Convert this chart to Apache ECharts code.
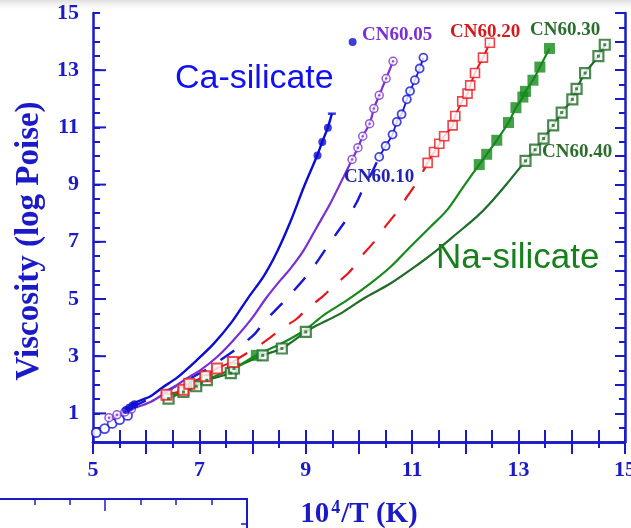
<!DOCTYPE html>
<html><head><meta charset="utf-8">
<script src="https://cdn.jsdelivr.net/npm/echarts@6.0.0/dist/echarts.min.js"></script>
<style>html,body{margin:0;padding:0;background:#fff}#c{width:631px;height:528px}</style>
</head><body><div id="c"></div><script>
// Viscosity vs reciprocal temperature for Ca- and Na-silicate melts

// Ca-silicate reference curve and its measured points
const caLineX = [5.6,5.8,6.08,6.3,6.58,6.95,7.27,7.61,7.92,8.21,8.46,8.71,8.96,9.21,9.31,9.415,9.49];
const caLineY = [1.15,1.38,1.6,1.9,2.25,2.86,3.44,4.2,5.05,5.8,6.65,7.7,8.9,10.0,10.5,11.0,11.48];
const caPtsX = [5.62,5.68,5.74,5.78,9.22,9.31,9.415,9.88];
const caPtsY = [1.12,1.2,1.27,1.32,10.02,10.49,10.99,13.99];
const caEndX = [9.49];
const caEndY = [11.48];

// CN60.05
const c05LineX = [5.3,5.5,5.76,6.08,6.39,6.58,6.83,7.02,7.33,7.64,7.96,8.27,8.52,8.71,8.96,9.21,9.46,9.71,9.87,9.98,10.07,10.2,10.28,10.38,10.51,10.64];
const c05LineY = [0.85,0.97,1.17,1.4,1.75,2.0,2.3,2.51,2.97,3.56,4.26,5.07,5.65,6.06,6.7,7.52,8.34,9.27,9.88,10.29,10.69,11.13,11.66,12.12,12.71,13.31];
const c05PtsX = [5.3,5.45,5.6,5.72,9.87,9.98,10.07,10.2,10.28,10.38,10.51,10.64];
const c05PtsY = [0.85,0.95,1.05,1.15,9.88,10.29,10.69,11.13,11.66,12.12,12.71,13.31];

// CN60.10
const c10DashX = [5.7,6.0,6.4,6.8,7.1,7.5,7.8,8.05,8.25,8.5,8.75,9.0,9.2,9.4,9.6,9.8,9.96,10.1,10.25,10.38];
const c10DashY = [1.2,1.45,1.8,2.2,2.5,3.0,3.4,3.8,4.27,4.74,5.24,5.77,6.27,6.82,7.35,7.88,8.39,8.95,9.45,9.97];
const c10LowX = [5.06,5.22,5.36,5.5,5.65];
const c10LowY = [0.33,0.47,0.65,0.78,0.93];
const c10HighX = [10.38,10.5,10.63,10.71,10.8,10.9,10.96,11.05,11.14,11.21];
const c10HighY = [9.97,10.35,10.75,11.19,11.46,11.98,12.27,12.65,13.06,13.44];

// CN60.20
const c20LowX = [6.38,6.7,6.81,7.11,7.33,7.63];
const c20LowY = [1.65,1.83,2.04,2.3,2.57,2.8];
const c20DashX = [7.63,7.86,8.08,8.33,8.58,8.83,9.05,9.32,9.55,9.82,10.04,10.28,10.49,10.71,10.9,11.09,11.29];
const c20DashY = [2.8,3.07,3.32,3.65,4.0,4.31,4.7,5.09,5.5,5.94,6.48,6.99,7.52,8.04,8.57,9.09,9.76];
const c20HighX = [11.29,11.41,11.51,11.6,11.76,11.81,11.94,12.04,12.09,12.18,12.33,12.46];
const c20HighY = [9.76,10.14,10.43,10.69,11.07,11.4,11.91,12.18,12.47,12.9,13.44,13.96];

// CN60.30
const c30LineX = [6.4,6.88,7.62,8.07,8.4,8.71,9.02,9.33,9.77,10.21,10.59,10.96,11.34,11.65,11.96,12.26,12.4,12.59,12.81,12.95,13.08,13.13,13.27,13.4,13.58];
const c30LineY = [1.5,1.98,2.55,3.03,3.32,3.61,3.96,4.43,4.95,5.54,6.12,6.82,7.52,8.1,8.92,9.7,10.06,10.55,11.17,11.69,12.06,12.26,12.65,13.11,13.76];
const c30PtsX = [6.88,7.62,8.07,12.26,12.4,12.59,12.81,12.95,13.08,13.13,13.27,13.4,13.58];
const c30PtsY = [1.98,2.55,3.03,9.7,10.06,10.55,11.17,11.69,12.06,12.26,12.65,13.11,13.76];

// CN60.40
const c40LineX = [6.42,6.7,6.94,7.14,7.59,7.65,8.19,8.55,9.0,9.21,9.65,10.08,10.59,11.09,11.46,11.84,12.21,12.46,12.78,13.13,13.31,13.47,13.65,13.81,14.01,14.09,14.25,14.5,14.62];
const c40LineY = [1.52,1.75,1.95,2.16,2.41,2.57,3.03,3.27,3.85,4.08,4.49,5.01,5.54,6.18,6.7,7.29,7.87,8.34,9.03,9.83,10.22,10.61,11.07,11.52,11.98,12.35,12.9,13.49,13.89];
const c40PtsX = [6.42,6.7,6.94,7.14,7.59,7.65,8.19,8.55,9.0,13.13,13.31,13.47,13.65,13.81,14.01,14.09,14.25,14.5,14.62];
const c40PtsY = [1.52,1.75,1.95,2.16,2.41,2.57,3.03,3.27,3.85,9.83,10.22,10.61,11.07,11.52,11.98,12.35,12.9,13.49,13.89];

// labelled (long) ticks on the viscosity axis
const yLongTicks = [1,3,5,7,9,11,13];

const zip = (xs, ys) => xs.map((x, i) => [x, ys[i]]);

const axisBlue = '#1a1ac8';
const caBlue = '#0c0cd2';
const purple = '#7a2fd4';
const blue10 = '#1616d8';
const red = '#e8161c';
const green30 = '#16891c';
const green40 = '#1f6b27';
const serif = "'Liberation Serif','Times New Roman',serif";
const sans = "'Liberation Sans',Arial,sans-serif";

const lineS = (data, color, width, type, z) => ({
  type: 'line', data, showSymbol: false, symbol: 'none', smooth: 0.3, z: z || 2,
  lineStyle: { color, width, type: type || 'solid' }, silent: true, animation: false
});
const dots = (data, opts) => Object.assign({
  type: 'scatter', data, animation: false, silent: true, z: 5
}, opts);

const chart = echarts.init(document.getElementById('c'), null, { renderer: 'canvas' });

const labelStyle = { color: axisBlue, fontFamily: serif, fontWeight: 'bold', fontSize: 22 };

chart.setOption({
  animation: false,
  grid: { left: 93, right: 6, top: 13, bottom: 86, containLabel: false, outerBoundsMode: 'none' },
  xAxis: [
    {
      type: 'value', min: 5, max: 15, interval: 1, position: 'bottom',
      axisLine: { lineStyle: { color: axisBlue, width: 2.5 } },
      axisTick: { inside: true, length: 12, lineStyle: { color: axisBlue, width: 2 } },
      minorTick: { show: true, splitNumber: 2, length: 12, lineStyle: { color: axisBlue, width: 2 } },
      splitLine: { show: false },
      axisLabel: Object.assign({ margin: 17, formatter: v => (v % 2 === 1 ? String(v) : '') }, labelStyle),
      name: '{a|10}{s|4}{a|/T (K)}', nameLocation: 'middle', nameGap: 57,
      nameTextStyle: {
        rich: {
          a: { fontFamily: serif, fontWeight: 'bold', fontSize: 29, color: axisBlue },
          s: { fontFamily: serif, fontWeight: 'bold', fontSize: 18, color: axisBlue, padding: [0, 1, 14, 2] }
        }
      }
    },
    {
      type: 'value', min: 5, max: 15, interval: 1, position: 'top',
      axisLine: { lineStyle: { color: axisBlue, width: 2.5 } },
      axisTick: { inside: true, length: 12, lineStyle: { color: axisBlue, width: 2 } },
      minorTick: { show: true, splitNumber: 2, length: 6, lineStyle: { color: axisBlue, width: 2 } },
      splitLine: { show: false }, axisLabel: { show: false }
    }
  ],
  yAxis: [
    {
      type: 'value', min: 0, max: 15, interval: 1, position: 'left',
      axisLine: { show: true, lineStyle: { color: axisBlue, width: 2.5 } },
      axisTick: { show: true, inside: true, length: 7, lineStyle: { color: axisBlue, width: 2 } },
      minorTick: { show: true, splitNumber: 2, length: 7, lineStyle: { color: axisBlue, width: 2 } },
      splitLine: { show: false },
      axisLabel: Object.assign({ margin: 14, formatter: v => (v % 2 === 1 ? String(v) : '') }, labelStyle)
    },
    {
      type: 'value', min: 0, max: 15, interval: 1, position: 'right',
      axisLine: { show: true, lineStyle: { color: axisBlue, width: 2.5 } },
      axisTick: { show: true, inside: true, length: 10, lineStyle: { color: axisBlue, width: 2 } },
      minorTick: { show: true, splitNumber: 2, length: 6, lineStyle: { color: axisBlue, width: 2 } },
      splitLine: { show: false }, axisLabel: { show: false }
    }
  ],
  series: [
    // long ticks at the labelled viscosity values
    {
      type: 'custom', data: yLongTicks.map(v => [5, v]), silent: true, z: 10,
      renderItem: (params, api) => {
        const p = api.coord([api.value(0), api.value(1)]);
        return { type: 'line', shape: { x1: p[0], y1: p[1], x2: p[0] + 13, y2: p[1] },
                 style: { stroke: axisBlue, lineWidth: 2 } };
      }
    },
    // curves
    lineS(zip(c40LineX, c40LineY), green40, 2.2),
    lineS(zip(c30LineX, c30LineY), green30, 2.2),
    lineS(zip(c20LowX, c20LowY), red, 2),
    lineS(zip(c20DashX, c20DashY), red, 2.2, [17, 17]),
    lineS(zip(c20HighX, c20HighY), red, 2),
    lineS(zip(c10DashX, c10DashY), blue10, 2.4, [17, 17]),
    lineS(zip(c10HighX, c10HighY), blue10, 1.8),
    lineS(zip(c05LineX, c05LineY), purple, 2.2),
    lineS(zip(caLineX, caLineY), caBlue, 2.4),
    // markers
    dots(zip(c40PtsX, c40PtsY), { symbol: 'rect', symbolSize: 10,
      itemStyle: { color: '#fff', borderColor: green40, borderWidth: 2.2 } }),
    dots(zip(c40PtsX, c40PtsY), { symbol: 'rect', symbolSize: 3, z: 6, itemStyle: { color: green40 } }),
    dots(zip(c30PtsX, c30PtsY), { symbol: 'rect', symbolSize: 11, z: 4, itemStyle: { color: green30 } }),
    dots(zip(c20LowX, c20LowY), { symbol: 'rect', symbolSize: 10,
      itemStyle: { color: '#fff', borderColor: red, borderWidth: 2 } }),
    dots(zip(c20HighX, c20HighY), { symbol: 'rect', symbolSize: 9,
      itemStyle: { color: '#fff', borderColor: red, borderWidth: 1.6 } }),
    dots(zip(c10LowX, c10LowY), { symbol: 'circle', symbolSize: 9,
      itemStyle: { color: '#fff', borderColor: blue10, borderWidth: 1.8 } }),
    dots(zip(c10HighX, c10HighY), { symbol: 'circle', symbolSize: 8,
      itemStyle: { color: '#fff', borderColor: blue10, borderWidth: 1.8 } }),
    dots(zip(c05PtsX, c05PtsY), { symbol: 'circle', symbolSize: 8,
      itemStyle: { color: '#fff', borderColor: purple, borderWidth: 1.5 } }),
    dots(zip(c05PtsX, c05PtsY), { symbol: 'circle', symbolSize: 2.5, z: 6, itemStyle: { color: purple } }),
    dots(zip(caPtsX, caPtsY), { symbol: 'circle', symbolSize: 8, z: 6, itemStyle: { color: caBlue } }),
    dots(zip(caEndX, caEndY), { symbol: 'rect', symbolSize: [8, 2.5], z: 6, itemStyle: { color: caBlue } })
  ],
  graphic: [
    // soft grey band along the top edge
    { type: 'rect', z: -10, shape: { x: 0, y: 0, width: 631, height: 12 },
      style: { fill: new echarts.graphic.LinearGradient(0, 0, 0, 1, [
        { offset: 0, color: '#dedede' }, { offset: 1, color: 'rgba(255,255,255,0)' }]) } },
    // fragment of a second frame at the lower left
    { type: 'polyline', shape: { points: [[0, 499], [247, 499], [247, 528]] },
      style: { stroke: axisBlue, lineWidth: 2, fill: null } },
    { type: 'line', shape: { x1: 35, y1: 499, x2: 35, y2: 505 }, style: { stroke: axisBlue, lineWidth: 1.5 } },
    { type: 'line', shape: { x1: 70, y1: 499, x2: 70, y2: 505 }, style: { stroke: axisBlue, lineWidth: 1.5 } },
    { type: 'line', shape: { x1: 105, y1: 499, x2: 105, y2: 511 }, style: { stroke: axisBlue, lineWidth: 1.5 } },
    { type: 'line', shape: { x1: 141, y1: 499, x2: 141, y2: 505 }, style: { stroke: axisBlue, lineWidth: 1.5 } },
    { type: 'line', shape: { x1: 176, y1: 499, x2: 176, y2: 505 }, style: { stroke: axisBlue, lineWidth: 1.5 } },
    { type: 'line', shape: { x1: 212, y1: 499, x2: 212, y2: 505 }, style: { stroke: axisBlue, lineWidth: 1.5 } },
    { type: 'line', shape: { x1: 241, y1: 524, x2: 247, y2: 524 }, style: { stroke: axisBlue, lineWidth: 1.5 } },
    // vertical axis title
    { type: 'text', x: 29, y: 241, rotation: Math.PI / 2, z: 20, style: { text: 'Viscosity (log Poise)',
      fill: axisBlue, font: 'bold 33px ' + serif, align: 'center', verticalAlign: 'middle' } },
    // annotations
    { type: 'text', x: 175, y: 79, z: 20, style: { text: 'Ca-silicate', fill: '#1010f0',
      font: '34px ' + sans, align: 'left', verticalAlign: 'middle' } },
    { type: 'text', x: 436, y: 258, z: 20, style: { text: 'Na-silicate', fill: '#17801c',
      font: '35px ' + sans, align: 'left', verticalAlign: 'middle' } },
    { type: 'text', x: 362, y: 35, z: 20, style: { text: 'CN60.05', fill: purple,
      font: 'bold 19px ' + serif, align: 'left', verticalAlign: 'middle' } },
    { type: 'text', x: 450, y: 32, z: 20, style: { text: 'CN60.20', fill: '#d81818',
      font: 'bold 19px ' + serif, align: 'left', verticalAlign: 'middle' } },
    { type: 'text', x: 530, y: 30, z: 20, style: { text: 'CN60.30', fill: '#2a6e2c',
      font: 'bold 19px ' + serif, align: 'left', verticalAlign: 'middle' } },
    { type: 'text', x: 344, y: 177, z: 20, style: { text: 'CN60.10', fill: '#2222b4',
      font: 'bold 19px ' + serif, align: 'left', verticalAlign: 'middle' } },
    { type: 'text', x: 542, y: 152, z: 20, style: { text: 'CN60.40', fill: '#2a6e2c',
      font: 'bold 19px ' + serif, align: 'left', verticalAlign: 'middle' } }
  ]
});
</script></body></html>
